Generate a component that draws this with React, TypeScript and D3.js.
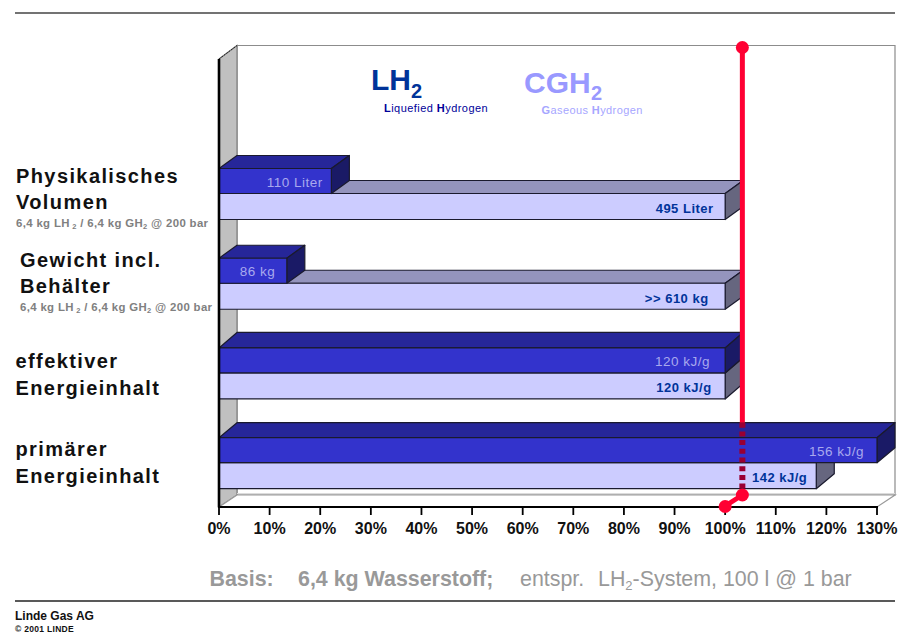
import React from "react";
import * as d3 from "d3";

// Chart data: every value is a share of the LH2 system reference (percent)
const categories = ["volumen", "gewicht", "effektiv", "primaer"];
const lh2Percent = [22.2, 13.4, 100, 130];
const cgh2Percent = [100, 100, 100, 118];
const lh2Labels = ["110 Liter", "86 kg", "120 kJ/g", "156 kJ/g"];
const cgh2Labels = ["495 Liter", ">> 610 kg", "120 kJ/g", "142 kJ/g"];
const referencePercent = 103.4;
const tickValues = d3.range(0, 131, 10);

const SANS = "'Liberation Sans', Arial, sans-serif";
const W = 901;
const H = 635;
const DX = 18;
const rowDepth = [13, 13, 15.5, 15];
const lh2Inset = [8.5, 11.5, 15, 13];
const cgh2Inset = [11.5, 16.5, 13.5, 9];

const x = d3.scaleLinear().domain([0, 130]).range([219, 877]);
const y = d3.scalePoint<string>().domain(categories).range([193.5, 462.7]);

const FLOOR_Y = 507;
const TOP_Y = 59;

function pts(list: number[][]) {
  return list.map((p) => p.join(",")).join(" ");
}

const lh2Colors = { front: "#3333cc", top: "#262699", side: "#1a1a66" };
const cgh2Colors = { front: "#ccccff", top: "#9494bd", side: "#66667f" };
const edge = "#1a1a2e";

function Bar({ value, yTop, h, dy, c }: { value: number; yTop: number; h: number; dy: number; c: typeof lh2Colors }) {
  const x0 = x(0);
  const x1 = x(value);
  return (
    <g stroke={edge} strokeWidth={1.2} strokeLinejoin="round">
      <polygon fill={c.top} points={pts([[x0, yTop], [x0 + DX, yTop - dy], [x1 + DX, yTop - dy], [x1, yTop]])} />
      <polygon fill={c.side} points={pts([[x1, yTop], [x1 + DX, yTop - dy], [x1 + DX, yTop + h - dy], [x1, yTop + h]])} />
      <rect fill={c.front} x={x0} y={yTop} width={x1 - x0} height={h} />
    </g>
  );
}

function SideLabel({ lines, lx, by, sub, subY }: { lines: string[]; lx: number; by: number[]; sub?: boolean; subY?: number }) {
  return (
    <g>
      {lines.map((t, i) => (
        <text key={t} x={lx} y={by[i]} fontFamily={SANS} fontWeight={700} fontSize={20} letterSpacing={1.4} fill="#111">
          {t}
        </text>
      ))}
      {sub && (
        <text x={lx} y={subY} fontFamily={SANS} fontWeight={700} fontSize={11.4} fill="#808080" letterSpacing={0.35}>
          6,4 kg LH
          <tspan fontSize={7.5} dy={1.5}> 2</tspan>
          <tspan dy={-1.5}> / 6,4 kg GH</tspan>
          <tspan fontSize={7.5} dy={1.5}>2</tspan>
          <tspan dy={-1.5}> @ 200 bar</tspan>
        </text>
      )}
    </g>
  );
}

export default function App() {
  const refX = x(referencePercent);
  const dashTop = (y("primaer") as number) - 25 - 15;
  const backBottom = FLOOR_Y - 12;
  return (
    <svg
      width={W}
      height={H}
      viewBox={`0 0 ${W} ${H}`}
      style={{ position: "absolute", left: 0, top: 0, display: "block", background: "#fff" }}
    >
      {/* header and footer rules */}
      <line x1={15} x2={895} y1={13} y2={13} stroke="#444" strokeWidth={1.4} />
      <line x1={15} x2={895} y1={601} y2={601} stroke="#222" strokeWidth={1.4} />

      {/* back wall, side wall and floor of the 3D frame */}
      <polygon
        points={pts([[x(0) + DX, 45.5], [895, 45.5], [895, backBottom], [x(0) + DX, backBottom]])}
        fill="#fff"
        stroke="#8c8c8c"
        strokeWidth={1.2}
      />
      <polygon
        points={pts([[x(0), TOP_Y], [x(0) + DX, 45.5], [x(0) + DX, backBottom], [x(0), FLOOR_Y]])}
        fill="#c0c0c0"
        stroke="#808080"
        strokeWidth={1.2}
      />
      <line x1={x(0)} x2={x(0) + DX} y1={TOP_Y} y2={45.5} stroke="#222" strokeWidth={1} strokeDasharray="2 1" />
      <polygon
        points={pts([[x(0), FLOOR_Y], [x(0) + DX, backBottom], [895, backBottom], [877, FLOOR_Y]])}
        fill="#fff"
        stroke="#9a9a9a"
        strokeWidth={1.2}
      />
      <line x1={x(0) + DX} x2={895} y1={backBottom - 1.5} y2={backBottom - 1.5} stroke="#dcdcdc" strokeWidth={1} />

      {/* bars, back to front */}
      {categories.map((cat, i) => {
        const mid = y(cat) as number;
        return (
          <g key={cat}>
            <Bar value={cgh2Percent[i]} yTop={mid} h={26} dy={rowDepth[i]} c={cgh2Colors} />
            <Bar value={lh2Percent[i]} yTop={mid - 25} h={25} dy={rowDepth[i]} c={lh2Colors} />
            <text
              x={x(lh2Percent[i]) - lh2Inset[i]}
              y={mid - 7}
              textAnchor="end"
              fontFamily={SANS}
              fontSize={13.5}
              letterSpacing={0.5}
              fill="#a9a9ee"
            >
              {lh2Labels[i]}
            </text>
            <text
              x={x(cgh2Percent[i]) - cgh2Inset[i]}
              y={mid + 19.5}
              textAnchor="end"
              fontFamily={SANS}
              fontWeight={700}
              fontSize={13}
              letterSpacing={0.5}
              fill="#003399"
            >
              {cgh2Labels[i]}
            </text>
          </g>
        );
      })}

      {/* axes */}
      <line x1={x(0)} x2={x(0)} y1={TOP_Y} y2={FLOOR_Y} stroke="#000" strokeWidth={2.6} />
      <line x1={x(0) - 1} x2={x(130) + 1} y1={FLOOR_Y} y2={FLOOR_Y} stroke="#000" strokeWidth={2.2} />
      {tickValues.map((t) => (
        <g key={t}>
          <line x1={x(t)} x2={x(t)} y1={FLOOR_Y} y2={FLOOR_Y + 8} stroke="#000" strokeWidth={1.8} />
          <text x={x(t)} y={534} textAnchor="middle" fontFamily={SANS} fontWeight={700} fontSize={16} fill="#111">
            {t}%
          </text>
        </g>
      ))}

      {/* reference marker at the LH2 system level */}
      <line x1={refX} x2={refX} y1={47.5} y2={dashTop} stroke="#ff0033" strokeWidth={5} />
      <line x1={refX} x2={refX} y1={dashTop} y2={495} stroke="#990033" strokeWidth={6} strokeDasharray="5 3.7" />
      <line x1={refX} x2={x(100)} y1={495} y2={506} stroke="#ff0033" strokeWidth={5} />
      <circle cx={refX} cy={47.5} r={6.5} fill="#ff0033" />
      <circle cx={refX} cy={495} r={6.5} fill="#ff0033" />
      <circle cx={x(100)} cy={506.5} r={6.5} fill="#ff0033" />

      {/* series legend */}
      <text x={371} y={90} fontFamily={SANS} fontWeight={700} fontSize={30} fill="#003399">LH</text>
      <text x={411} y={98} fontFamily={SANS} fontWeight={700} fontSize={20} fill="#003399">2</text>
      <text x={384} y={112} fontFamily={SANS} fontSize={11} letterSpacing={0.45} fill="#000099">
        <tspan fontWeight={700}>L</tspan>iquefied <tspan fontWeight={700}>H</tspan>ydrogen
      </text>
      <text x={524} y={93} fontFamily={SANS} fontWeight={700} fontSize={30} fill="#9999ff">CGH</text>
      <text x={591} y={100} fontFamily={SANS} fontWeight={700} fontSize={20} fill="#9999ff">2</text>
      <text x={541.5} y={114} fontFamily={SANS} fontSize={11} letterSpacing={0.4} fill="#a6a6ff">
        <tspan fontWeight={700}>G</tspan>aseous <tspan fontWeight={700}>H</tspan>ydrogen
      </text>

      {/* category captions */}
      <SideLabel lines={["Physikalisches", "Volumen"]} lx={16} by={[182.5, 209]} sub subY={227} />
      <SideLabel lines={["Gewicht incl.", "Behälter"]} lx={20} by={[266.5, 292.5]} sub subY={311} />
      <SideLabel lines={["effektiver", "Energieinhalt"]} lx={15.5} by={[368, 395]} />
      <SideLabel lines={["primärer", "Energieinhalt"]} lx={15.5} by={[456, 483]} />

      {/* basis note */}
      <text x={209.5} y={586} fontFamily={SANS} fontWeight={700} fontSize={21.4} fill="#999">Basis:</text>
      <text x={298} y={586} fontFamily={SANS} fontWeight={700} fontSize={21.4} fill="#999">6,4 kg Wasserstoff;</text>
      <text x={520} y={586} fontFamily={SANS} fontSize={21.4} fill="#999">
        entspr.
        <tspan x={598}>LH</tspan>
        <tspan fontSize={13} dy={4}>2</tspan>
        <tspan dy={-4}>-System, 100 l @ 1 bar</tspan>
      </text>

      {/* imprint */}
      <text x={15} y={620} fontFamily={SANS} fontWeight={700} fontSize={12} fill="#111">Linde Gas AG</text>
      <text x={15} y={632} fontFamily={SANS} fontWeight={700} fontSize={8.5} letterSpacing={0.3} fill="#111">© 2001 LINDE</text>
    </svg>
  );
}
